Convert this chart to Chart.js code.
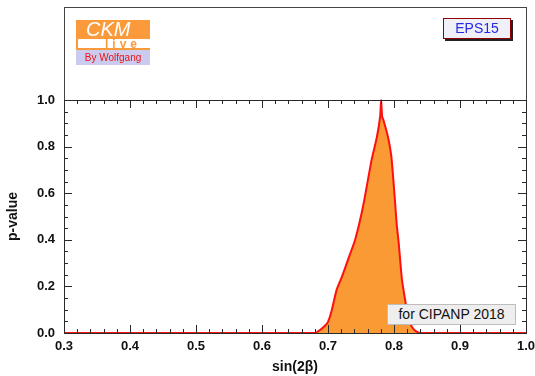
<!DOCTYPE html>
<html>
<head>
<meta charset="utf-8">
<script src="https://cdn.jsdelivr.net/npm/chart.js@4/dist/chart.umd.min.js"></script>
<style>
  html, body { margin: 0; padding: 0; background: #fff; }
  #wrap { position: relative; width: 535px; height: 376px; font-family: "Liberation Sans", Arial, sans-serif; }
  canvas { position: absolute; left: 0; top: 0; }
  .logo { position: absolute; left: 76px; top: 20px; width: 74px; height: 45px; }
  .logo .ckm { height: 19px; background: #fb9a3a; color: #fff; font-style: italic; font-size: 20px; line-height: 19px; padding-left: 10px; }
  .logo .live { height: 9px; background: #fff; border-left: 2px solid #fb9a3a; border-bottom: 2px solid #fb9a3a; color: #fb9a3a; font-size: 12px; font-weight: bold; line-height: 10px; letter-spacing: 4px; padding-left: 27px; }
  .logo .by { height: 15px; background: #cbcbf0; color: #f01010; font-size: 10px; line-height: 15px; text-align: center; }
  .tag { position: absolute; left: 443px; top: 18px; width: 66px; height: 19px; background: #f0f0f8; border: 1px solid #900000; box-shadow: 2px 2px 0 #222; color: #2828e8; font-size: 14px; line-height: 19px; text-align: center; }
  .note { position: absolute; left: 387px; top: 304px; width: 127px; height: 19px; background: #eeeeee; border: 1px solid #bdbdbd; color: #111; font-size: 14px; line-height: 19px; text-align: center; }
</style>
</head>
<body>
<div id="wrap">
  <canvas id="chart" width="535" height="376"></canvas>
  <div class="logo">
    <div class="ckm">CKM</div>
    <div class="live">live</div>
    <div class="by">By Wolfgang</div>
  </div>
  <div class="tag">EPS15</div>
  <div class="note">for CIPANP 2018</div>
</div>
<script>
// p-value scan in sin(2beta)
const sin2b = [0.30, 0.680, 0.688, 0.695, 0.700, 0.705, 0.713, 0.718, 0.723, 0.731, 0.741, 0.753, 0.766, 0.774, 0.779, 0.7805, 0.782, 0.784, 0.791, 0.796, 0.801, 0.804, 0.807, 0.812, 0.817, 0.822, 0.827, 0.833, 0.840, 1.00];
const pval  = [0.00, 0.000, 0.013, 0.030, 0.048, 0.090, 0.185, 0.220, 0.256, 0.320, 0.399, 0.542, 0.742, 0.840, 0.930, 1.000, 0.930, 0.914, 0.840, 0.757, 0.585, 0.470, 0.390, 0.230, 0.140, 0.060, 0.027, 0.008, 0.000, 0.00];

const xTicks = [0.3, 0.4, 0.5, 0.6, 0.7, 0.8, 0.9, 1.0];
const yTicks = [0.0, 0.2, 0.4, 0.6, 0.8, 1.0];

const FRAME = "#2a2a2a";

// frame, inward ticks and the upper header box
const framePlugin = {
  id: "frame",
  beforeDraw(chart) {
    const ctx = chart.ctx, a = chart.chartArea;
    ctx.save();
    ctx.strokeStyle = "#444";
    ctx.lineWidth = 1;
    ctx.strokeRect(Math.round(a.left) + 0.5, 7.5, Math.round(a.right - a.left), Math.round(a.top) - 7);
    ctx.restore();
  },
  afterDraw(chart) {
    const ctx = chart.ctx, a = chart.chartArea;
    const xs = chart.scales.x, ys = chart.scales.y;
    ctx.save();
    ctx.strokeStyle = FRAME;
    ctx.lineWidth = 1;
    ctx.strokeRect(Math.round(a.left) + 0.5, Math.round(a.top) + 0.5, Math.round(a.right - a.left), Math.round(a.bottom - a.top));
    ctx.beginPath();
    for (let i = 0; i <= 35; i++) {
      const v = 0.3 + i * 0.02;
      const px = Math.round(xs.getPixelForValue(v)) + 0.5;
      const len = (i % 5 === 0) ? 8 : 4;
      ctx.moveTo(px, a.bottom); ctx.lineTo(px, a.bottom - len);
      ctx.moveTo(px, a.top); ctx.lineTo(px, a.top + len);
    }
    for (let i = 0; i <= 20; i++) {
      const v = i * 0.05;
      const py = Math.round(ys.getPixelForValue(v)) + 0.5;
      const len = (i % 4 === 0) ? 8 : 4;
      ctx.moveTo(a.left, py); ctx.lineTo(a.left + len, py);
      ctx.moveTo(a.right, py); ctx.lineTo(a.right - len, py);
    }
    ctx.stroke();
    ctx.restore();
  }
};

new Chart(document.getElementById("chart"), {
  type: "line",
  data: {
    datasets: [{
      data: sin2b.map((x, i) => ({ x: x, y: pval[i] })),
      borderColor: "#ff1010",
      borderWidth: 2,
      backgroundColor: "#fa9a35",
      fill: "origin",
      pointRadius: 0,
      tension: 0.2,
      clip: 2
    }]
  },
  options: {
    responsive: false,
    animation: false,
    layout: { padding: { top: 100, right: 9, left: 0, bottom: 0 } },
    plugins: { legend: { display: false }, tooltip: { enabled: false } },
    scales: {
      x: {
        type: "linear", min: 0.3, max: 1.0,
        afterBuildTicks: s => { s.ticks = xTicks.map(v => ({ value: v })); },
        afterFit: s => { s.height = 43; s.paddingLeft = 0; s.paddingRight = 0; },
        grid: { display: false, drawTicks: false },
        border: { display: false },
        ticks: {
          padding: 6, color: "#111", maxRotation: 0,
          font: { family: "Liberation Sans", size: 13, weight: "bold" },
          callback: v => v.toFixed(1)
        },
        title: {
          display: true, text: "sin(2\u03b2)", color: "#111", padding: { top: 1, bottom: 0 },
          font: { family: "Liberation Sans", size: 14, weight: "bold" }
        }
      },
      y: {
        min: 0, max: 1,
        afterBuildTicks: s => { s.ticks = yTicks.map(v => ({ value: v })); },
        afterFit: s => { s.width = 64; s.paddingTop = 0; s.paddingBottom = 0; },
        grid: { display: false, drawTicks: false },
        border: { display: false },
        ticks: {
          padding: 9, color: "#111",
          font: { family: "Liberation Sans", size: 13, weight: "bold" },
          callback: v => v.toFixed(1)
        },
        title: {
          display: true, text: "p-value", color: "#111", padding: { top: 5, bottom: 0 },
          font: { family: "Liberation Sans", size: 14, weight: "bold" }
        }
      }
    }
  },
  plugins: [framePlugin]
});
</script>
</body>
</html>
